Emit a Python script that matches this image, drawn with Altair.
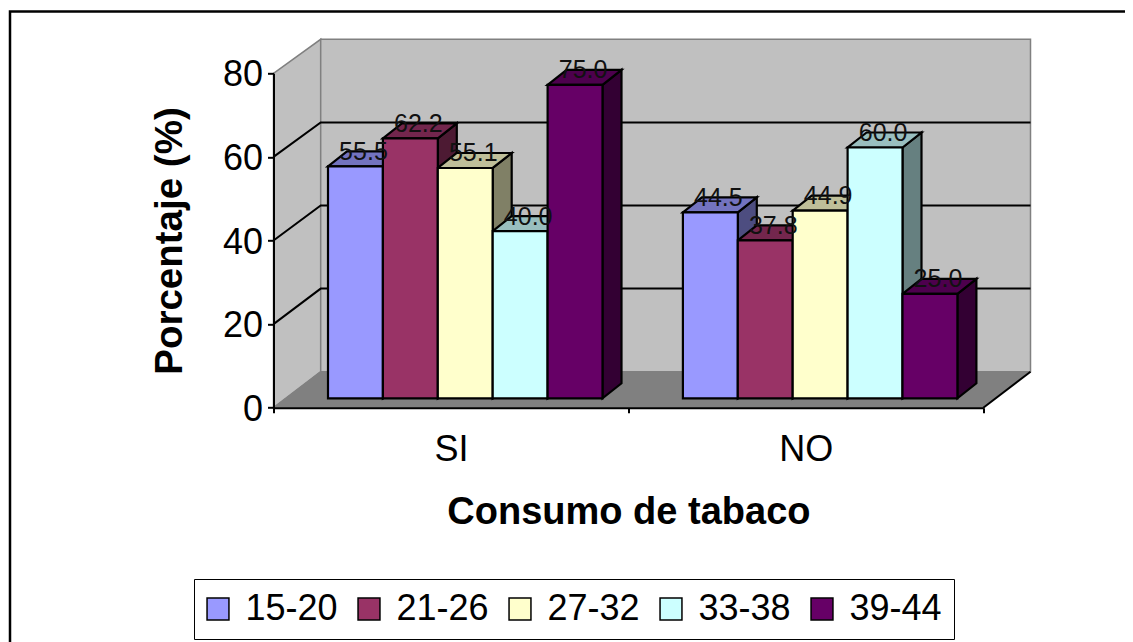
import altair as alt
import pandas as pd

categories = ["SI", "NO"]
age_groups = ["15-20", "21-26", "27-32", "33-38", "39-44"]
si_values = [55.5, 62.2, 55.1, 40.0, 75.0]
no_values = [44.5, 37.8, 44.9, 60.0, 25.0]
front_colors = ["#9999FF", "#993366", "#FFFFCC", "#CCFFFF", "#660066"]
top_colors = ["#7373BF", "#73264D", "#BFBF99", "#99BFBF", "#4D004D"]
side_colors = ["#4D4D80", "#4D1A33", "#808066", "#668080", "#330033"]
y_ticks = [0, 20, 40, 60, 80]

# oblique projection, in axis units (x: categories, y: percent)
W, H = 709.8, 334.4
px_x, px_y = W / 2, H / 80
wall_dx, wall_dy = 47.2 / px_x, 36 / px_y
front_dx, front_dy = 13.5 / px_x, 9.4 / px_y
bar_dx, bar_dy = 19 / px_x, 15 / px_y
back_k = 0.994
bar_w = 54.9 / px_x
gap_w = 41 / px_x

xs = alt.Scale(domain=[0, 2], nice=False, zero=False)
ys = alt.Scale(domain=[0, 80], nice=False, zero=False)
FONT = "Liberation Sans"

rows_front, rows_top, rows_side, rows_lab = [], [], [], []
for c, vals in enumerate([si_values, no_values]):
    for i, v in enumerate(vals):
        bid = f"{c}-{i}"
        x0 = c + gap_w + i * bar_w + front_dx
        x1 = x0 + bar_w
        b = front_dy
        t = v + front_dy
        rows_front.append(dict(x=x0, x2=x1, y=b, y2=t, group=age_groups[i]))
        rows_top += [
            dict(id=bid, y=t, x=x0, x2=x1, fill=top_colors[i]),
            dict(id=bid, y=t + bar_dy, x=x0 + bar_dx, x2=x1 + bar_dx, fill=top_colors[i]),
        ]
        rows_side += [
            dict(id=bid, x=x1, y=t, y2=b, fill=side_colors[i]),
            dict(id=bid, x=x1 + bar_dx, y=t + bar_dy, y2=b + bar_dy, fill=side_colors[i]),
        ]
        rows_lab.append(dict(x=(x0 + x1) / 2 + 8 / px_x, y=t, label=f"{v:.1f}"))

side_wall = pd.DataFrame([
    dict(x=0, y=0, y2=80),
    dict(x=wall_dx, y=wall_dy, y2=wall_dy + 80 * back_k),
])
back_wall = pd.DataFrame([dict(x=wall_dx, x2=2 + wall_dx, y=wall_dy, y2=wall_dy + 80 * back_k)])
floor = pd.DataFrame([
    dict(y=0, x=0, x2=2),
    dict(y=wall_dy, x=wall_dx, x2=2 + wall_dx),
])
grid_rows = []
for t in y_ticks[1:-1]:
    grid_rows += [
        dict(id=t, x=0, y=t, o=0),
        dict(id=t, x=wall_dx, y=wall_dy + t * back_k, o=1),
        dict(id=t, x=2 + wall_dx, y=wall_dy + t * back_k, o=2),
    ]
edge_rows = [dict(x=2, y=0, o=0), dict(x=2 + wall_dx, y=wall_dy, o=1)]

x_axis = alt.Axis(
    values=[0, 0.5, 1, 1.5, 2], title="Consumo de tabaco", grid=False,
    labelExpr="datum.value == 0.5 ? 'SI' : datum.value == 1.5 ? 'NO' : ''",
    labelFont=FONT, labelFontSize=36, labelColor="black", labelPadding=20, labelOverlap=False,
    labelFlush=False,
    tickOpacity={"expr": "datum.value % 1 == 0 ? 1 : 0"},
    tickColor="black", tickSize=5, tickWidth=2, domainColor="black", domainWidth=2,
    titleFont=FONT, titleFontSize=38, titleFontWeight="bold", titleColor="black",
    titlePadding=26, zindex=1,
)
y_axis = alt.Axis(
    values=y_ticks, title="Porcentaje (%)", grid=False,
    labelFont=FONT, labelFontSize=36, labelColor="black", labelPadding=5, labelOffset=1.5,
    tickColor="black", tickSize=6, tickWidth=2, domainColor="black", domainWidth=2,
    titleFont=FONT, titleFontSize=38.5, titleFontWeight="bold", titleColor="black",
    titlePadding=33, zindex=1,
)

X = lambda f="x:Q": alt.X(f, scale=xs, axis=x_axis)
Y = lambda f="y:Q": alt.Y(f, scale=ys, axis=y_axis)

frame = alt.Chart(pd.DataFrame([{"a": 1}])).mark_rect(
    fill="white", stroke="black", strokeWidth=2.5
).encode(
    x=alt.value(-263.5), x2=alt.value(900), y=alt.value(-61.8), y2=alt.value(700)
)

side_layer = alt.Chart(side_wall).mark_area(
    color="#C0C0C0", stroke="#808080", strokeWidth=1.5
).encode(x=X(), y=Y(), y2="y2:Q")
back_layer = alt.Chart(back_wall).mark_rect(
    color="#C0C0C0", stroke="#808080", strokeWidth=1.5
).encode(x=X(), x2="x2:Q", y=Y(), y2="y2:Q")
floor_layer = alt.Chart(floor).mark_area(
    orient="horizontal", color="#808080", stroke="#808080", strokeWidth=1
).encode(y=Y(), x=X(), x2="x2:Q")
grid_layer = alt.Chart(pd.DataFrame(grid_rows)).mark_line(
    color="black", strokeWidth=2
).encode(x=X(), y=Y(), detail="id:N", order="o:Q")
edge_layer = alt.Chart(pd.DataFrame(edge_rows)).mark_line(
    color="black", strokeWidth=2
).encode(x=X(), y=Y(), order="o:Q")

sides = alt.Chart(pd.DataFrame(rows_side)).mark_area(
    stroke="black", strokeWidth=2.2
).encode(
    x=X(), y=Y(), y2="y2:Q", fill=alt.Fill("fill:N", scale=None), detail="id:N"
)
tops = alt.Chart(pd.DataFrame(rows_top)).mark_area(
    orient="horizontal", stroke="black", strokeWidth=2.2
).encode(
    y=Y(), x=X(), x2="x2:Q", fill=alt.Fill("fill:N", scale=None), detail="id:N"
)
fronts = alt.Chart(pd.DataFrame(rows_front)).mark_rect(
    stroke="black", strokeWidth=2.2
).encode(
    x=X(), x2="x2:Q", y=Y(), y2="y2:Q",
    color=alt.Color(
        "group:N",
        scale=alt.Scale(domain=age_groups, range=front_colors),
        legend=alt.Legend(
            orient="none", legendX=-79.5, legendY=505.7, direction="horizontal", columns=5,
            title=None, strokeColor="black", fillColor="white", padding=12,
            symbolType="square", symbolSize=480, symbolStrokeColor="black", symbolStrokeWidth=1.5,
            symbolOpacity=1, symbolOffset=-6, labelFont=FONT, labelFontSize=36, labelColor="black",
            labelLimit=200, columnPadding=17, labelOffset=9.5,
        ),
    ),
)
labels = alt.Chart(pd.DataFrame(rows_lab)).mark_text(
    font=FONT, fontSize=25, color="#111111", baseline="alphabetic", align="center", dy=-6.5
).encode(x=X(), y=Y(), text="label:N")

chart = alt.layer(
    frame, side_layer, back_layer, floor_layer, grid_layer, edge_layer,
    sides, tops, fronts, labels,
).resolve_scale(fill="independent").properties(
    width=W, height=H,
    autosize=alt.AutoSizeParams(type="none"),
    padding={"left": 265.5, "top": 65.3, "right": 141.7, "bottom": 234.3},
    background="white",
).configure_view(stroke=None)

chart.save("out.html", embed_options={"renderer": "svg", "actions": False})
